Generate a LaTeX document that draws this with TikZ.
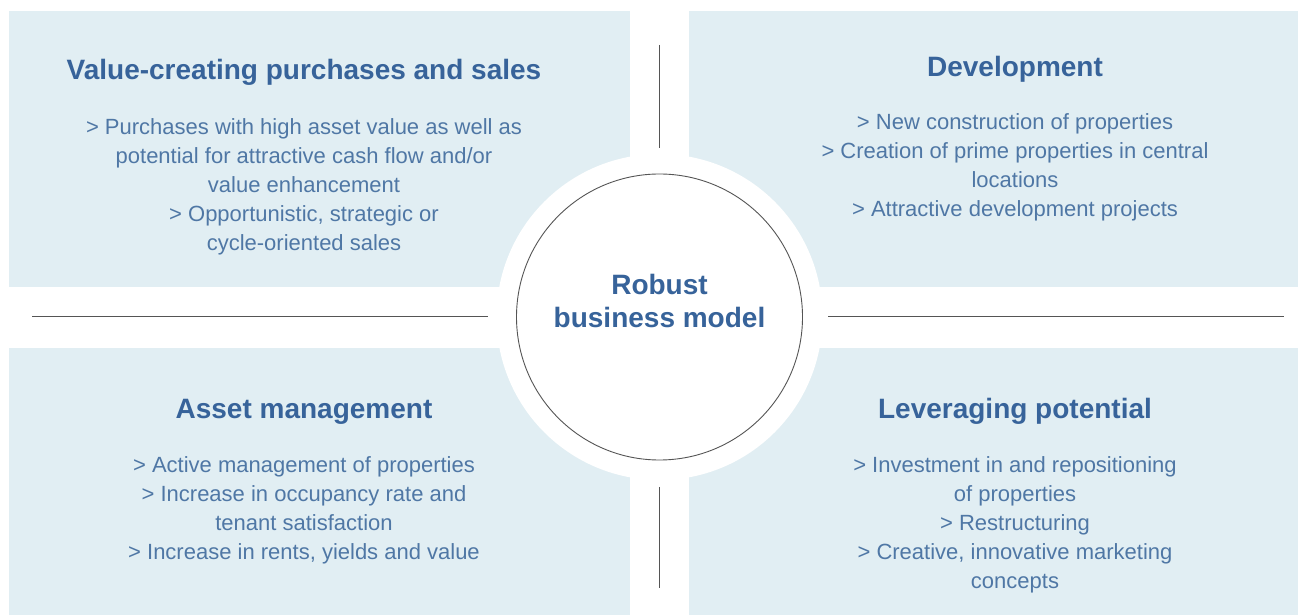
\documentclass[tikz,border=0pt]{standalone}
\usepackage{fontspec}
\setmainfont{Liberation Sans}
\definecolor{panel}{HTML}{E1EEF3}
\definecolor{titleblue}{HTML}{37639A}
\definecolor{bodyblue}{HTML}{4F77A5}
\definecolor{rule}{HTML}{555555}
\tikzset{
  ttl/.style={text=titleblue, font=\fontsize{28}{33}\selectfont\bfseries, inner sep=0pt, anchor=base},
  body/.style={text=bodyblue, font=\fontsize{22}{29}\selectfont, align=center, inner sep=0pt, anchor=base},
  sep/.style={draw=rule, line width=1pt},
}
\begin{document}
\begin{tikzpicture}[x=1pt,y=1pt]
\useasboundingbox (0,0) rectangle (1298,615);
% panels
\fill[panel] (9,604) rectangle (630,328);
\fill[panel] (689,604) rectangle (1298,328);
\fill[panel] (9,267) rectangle (630,0);
\fill[panel] (689,267) rectangle (1298,0);
% separators
\coordinate (hl1) at (32,298.5);
\coordinate (hl2) at (488,298.5);
\coordinate (hr1) at (828,298.5);
\coordinate (hr2) at (1284,298.5);
\coordinate (vt1) at (659.5,570);
\coordinate (vt2) at (659.5,467);
\coordinate (vb1) at (659.5,128);
\coordinate (vb2) at (659.5,27);
\draw[sep] (hl1) -- (hl2);
\draw[sep] (hr1) -- (hr2);
\draw[sep] (vt1) -- (vt2);
\draw[sep] (vb1) -- (vb2);
% center circles
\node[circle, fill=white, minimum size=326pt, inner sep=0pt] (outer) at (659.5,298) {};
\node[circle, fill=white, draw=rule, line width=0.9pt, minimum size=286pt, inner sep=0pt] (inner) at (659.5,298) {};
\node[ttl, align=center] (center) at (659.5,287) {Robust\\business model};
% top-left
\node[ttl] (tlt) at (304,535) {Value-creating purchases and sales};
\node[body] (tlb) at (304,364) {> Purchases with high asset value as well as\\potential for attractive cash flow and/or\\value enhancement\\> Opportunistic, strategic or\\cycle-oriented sales};
% top-right
\node[ttl] (trt) at (1015,538) {Development};
\node[body] (trb) at (1015,398) {> New construction of properties\\> Creation of prime properties in central\\locations\\> Attractive development projects};
% bottom-left
\node[ttl] (blt) at (304,196) {Asset management};
\node[body] (blb) at (304,55) {> Active management of properties\\> Increase in occupancy rate and\\tenant satisfaction\\> Increase in rents, yields and value};
% bottom-right
\node[ttl] (brt) at (1015,196) {Leveraging potential};
\node[body] (brb) at (1015,26) {> Investment in and repositioning\\of properties\\> Restructuring\\> Creative, innovative marketing\\concepts};
\end{tikzpicture}
\end{document}
